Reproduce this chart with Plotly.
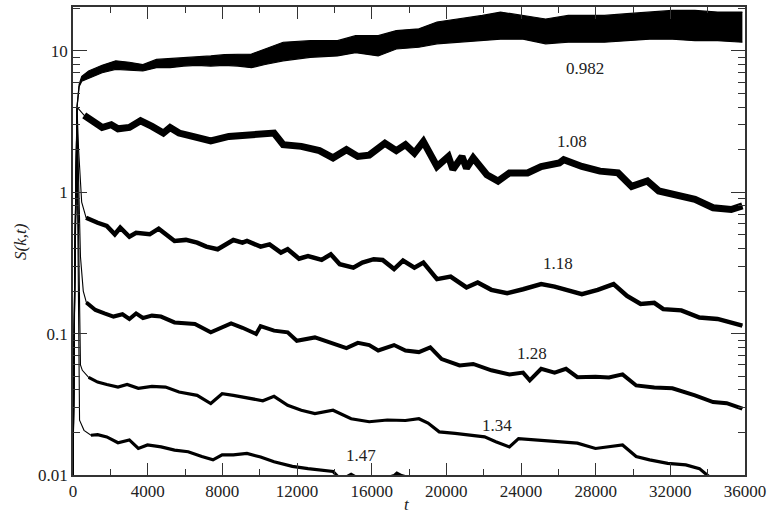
import numpy as np
import plotly.graph_objects as go

# ---------------- data ----------------
t_0982 = [0, 100, 215, 330, 470, 836, 1560, 2290, 3020, 3745, 4470, 5200, 5930, 6650, 7380,
          8110, 8835, 9560, 10290, 11260, 12710, 14170, 15140, 16350, 17320, 18530, 19500,
          20710, 21930, 22900, 24110, 25320, 26530, 28470, 29680, 30890, 32110, 33320, 34530, 35860]
s_0982_hi = [0.009, 0.35, 4.0, 5.8, 6.6, 7.2, 7.9, 8.5, 8.3, 8.0, 8.7, 8.8, 9.0, 9.1, 9.2,
             9.4, 9.5, 9.5, 10.3, 11.5, 11.8, 11.8, 12.8, 12.8, 13.9, 14.3, 16.0,
             16.8, 17.8, 18.8, 17.8, 16.8, 17.8, 17.8, 18.3, 18.8, 19.3, 19.3, 18.8, 18.8]
s_0982_lo = [0.009, 0.35, 4.0, 5.6, 6.1, 6.4, 7.0, 7.4, 7.3, 7.2, 7.6, 7.6, 7.8, 7.9, 7.8,
             7.9, 7.8, 7.6, 8.0, 8.5, 9.0, 9.2, 9.7, 9.2, 10.3, 10.6, 11.2,
             11.5, 11.8, 12.1, 12.1, 11.2, 11.5, 11.5, 11.8, 12.1, 12.1, 11.8, 11.8, 11.5]

t_108 = [0, 100, 215, 350, 600, 836, 1560, 2050, 2410, 3020, 3620, 4230, 4840, 5200, 5680,
         6410, 7380, 8350, 9560, 10530, 10770, 11260, 12230, 13200, 13930, 14650, 15260,
         15870, 16710, 17320, 17810, 18290, 18770, 19500, 20110, 20350, 20840, 21080, 21440,
         22170, 22770, 23380, 24350, 25080, 26050, 26290, 27260, 28230, 29200, 29930, 30770,
         31380, 32350, 33320, 34290, 35260, 35860]
s_108 = [0.009, 0.35, 4.0, 3.8, 3.5, 3.33, 2.87, 3.0, 2.81, 2.87, 3.2, 2.92, 2.62, 2.87, 2.62,
         2.48, 2.31, 2.48, 2.55, 2.55, 2.62, 2.17, 2.11, 1.97, 1.75, 2.0, 1.79,
         1.83, 2.22, 1.97, 2.17, 1.89, 2.28, 1.52, 1.79, 1.45, 1.79, 1.48, 1.75,
         1.33, 1.20, 1.37, 1.37, 1.52, 1.61, 1.70, 1.52, 1.41, 1.37, 1.10, 1.20,
         1.02, 0.94, 0.89, 0.776, 0.755, 0.80]

t_118 = [0, 100, 215, 300, 465, 700, 957, 1320, 1810, 2240, 2530, 3020, 3380, 4110, 4590,
         5440, 6050, 6650, 7140, 7750, 8590, 9080, 9320, 10050, 10530, 11140, 11500, 12110,
         12590, 13320, 13810, 14290, 15020, 15500, 16110, 16590, 17200, 17680, 18290, 18770,
         19500, 20230, 21080, 21680, 22410, 23260, 24110, 25080, 25800, 26410, 27260, 28110,
         28960, 29680, 30410, 31140, 31620, 32590, 33560, 34530, 35260, 35860]
s_118 = [0.009, 0.35, 4.0, 2.0, 0.85, 0.66, 0.635, 0.608, 0.577, 0.504, 0.561, 0.484, 0.517, 0.504, 0.552,
         0.452, 0.46, 0.44, 0.412, 0.395, 0.459, 0.44, 0.452, 0.412, 0.428, 0.374, 0.395, 0.339,
         0.354, 0.332, 0.364, 0.31, 0.293, 0.318, 0.336, 0.332, 0.286, 0.328, 0.293, 0.318,
         0.243, 0.253, 0.212, 0.23, 0.204, 0.193, 0.206, 0.224, 0.215, 0.204, 0.19, 0.204,
         0.224, 0.185, 0.162, 0.165, 0.149, 0.146, 0.13, 0.127, 0.12, 0.114]

t_128 = [0, 100, 215, 300, 400, 550, 715, 1200, 1685, 2170, 2650, 3020, 3380, 3750, 4230,
         4710, 5440, 6530, 7380, 8470, 9080, 9810, 10050, 10770, 11500, 11990, 12960, 13930,
         14650, 15260, 15870, 16350, 17200, 17810, 18530, 19140, 19750, 20710, 21440, 22410,
         23380, 24110, 24470, 25080, 25800, 26410, 27020, 27990, 28710, 29440, 30170, 31140,
         32110, 33320, 34290, 35020, 35860]
s_128 = [0.009, 0.3, 3.5, 1.0, 0.35, 0.2, 0.166, 0.147, 0.139, 0.132, 0.137, 0.127, 0.139, 0.129, 0.134,
         0.132, 0.12, 0.117, 0.102, 0.118, 0.11, 0.0995, 0.113, 0.105, 0.102, 0.089, 0.094, 0.085,
         0.079, 0.086, 0.083, 0.076, 0.083, 0.076, 0.074, 0.080, 0.066, 0.0595, 0.061, 0.055,
         0.0515, 0.053, 0.0467, 0.0564, 0.053, 0.0564, 0.0492, 0.0496, 0.049, 0.0515, 0.043, 0.0415,
         0.041, 0.0366, 0.0328, 0.0322, 0.0295]

t_134 = [0, 100, 215, 280, 350, 400, 500, 836, 1320, 1810, 2410, 2900, 3500, 4230, 4960,
         5680, 6650, 7380, 7990, 8590, 9560, 10170, 10770, 11500, 12230, 12960, 13930, 14900,
         15870, 16840, 17810, 18530, 19020, 19620, 20470, 21200, 22050, 22650, 23380, 23870,
         24830, 26050, 27020, 27990, 28710, 29440, 30170, 30890, 31860, 32830, 33560, 34050, 34500]
s_134 = [0.009, 0.3, 3.0, 0.6, 0.1, 0.06, 0.055, 0.049, 0.0454, 0.0437, 0.0419, 0.0437, 0.041, 0.0423, 0.0419,
         0.0386, 0.0366, 0.032, 0.0376, 0.0366, 0.0347, 0.0335, 0.036, 0.0311, 0.0287, 0.0272, 0.0287, 0.025,
         0.0238, 0.0245, 0.0243, 0.025, 0.0233, 0.0202, 0.0197, 0.0191, 0.0186, 0.0172, 0.0158, 0.0181,
         0.0177, 0.0172, 0.0168, 0.0154, 0.0158, 0.0163, 0.0135, 0.0128, 0.0121, 0.0118, 0.0111, 0.0098, 0.0092]

t_147 = [0, 100, 215, 270, 320, 351, 590, 960, 1320, 1810, 2410, 3020, 3500, 3990, 4720,
         5440, 6170, 6900, 7500, 7990, 8590, 9320, 10050, 10770, 11750, 12590, 13440, 13930,
         14170, 14650, 14900, 15140, 16500, 17200, 17350, 17600, 18500]
s_147 = [0.009, 0.25, 2.5, 0.4, 0.06, 0.0244, 0.0207, 0.0191, 0.0193, 0.0186, 0.0169, 0.0177, 0.0154, 0.0163, 0.0158,
         0.015, 0.0146, 0.0135, 0.0128, 0.0139, 0.0139, 0.0142, 0.0134, 0.0124, 0.0115, 0.0111, 0.0108, 0.0106,
         0.0098, 0.0097, 0.0101, 0.0097, 0.0093, 0.0099, 0.0103, 0.0099, 0.0092]

labels = ["0.982", "1.08", "1.18", "1.28", "1.34", "1.47"]
label_t = [27430, 26730, 25970, 24590, 22700, 15430]
label_s = [7.46, 2.29, 0.311, 0.0723, 0.0225, 0.0138]

x_ticks = list(range(0, 36001, 4000))
x_tick_text = [str(v) for v in x_ticks]
y_ticks = [0.01, 0.1, 1, 10]
y_tick_text = ["0.01", "0.1", "1", "10"]

# ---------------- figure ----------------
FONT = "Liberation Serif, Times New Roman, serif"
BLACK = "black"
TEXT = "#222"
TRANSIENT_END = 600

fig = go.Figure()

# 0.982 : filled band between upper / lower envelopes
fig.add_trace(go.Scatter(x=t_0982, y=s_0982_lo, mode="lines",
                         line=dict(color=BLACK, width=1.2), showlegend=False))
fig.add_trace(go.Scatter(x=t_0982, y=s_0982_hi, mode="lines", fill="tonexty",
                         fillcolor=BLACK, line=dict(color=BLACK, width=1.2), showlegend=False))

curves = [(t_108, s_108, 7), (t_118, s_118, 4.5), (t_128, s_128, 4),
          (t_134, s_134, 3.2), (t_147, s_147, 3.2)]
for tt, ss, w in curves:
    fig.add_trace(go.Scatter(x=tt, y=ss, mode="lines",
                             line=dict(color=BLACK, width=1.1), showlegend=False))
    tt2 = [a for a in tt if a >= TRANSIENT_END]
    ss2 = [b for a, b in zip(tt, ss) if a >= TRANSIENT_END]
    fig.add_trace(go.Scatter(x=tt2, y=ss2, mode="lines",
                             line=dict(color=BLACK, width=w), showlegend=False))

for txt, lt, ls in zip(labels, label_t, label_s):
    fig.add_annotation(x=lt, y=np.log10(ls), text=txt, showarrow=False,
                       xanchor="center", yanchor="middle",
                       font=dict(family=FONT, size=17, color=TEXT))

fig.add_annotation(xref="paper", yref="paper", x=-0.079, y=0.5, text="<i>S(k,t)</i>",
                   textangle=-90, showarrow=False, xanchor="center", yanchor="middle",
                   font=dict(family=FONT, size=17, color=TEXT))
fig.add_annotation(xref="paper", yref="paper", x=0.497, y=-0.064, text="<i>t</i>",
                   showarrow=False, xanchor="center", yanchor="middle",
                   font=dict(family=FONT, size=17, color=TEXT))

axis_common = dict(showgrid=False, zeroline=False, showline=True, linecolor="#333",
                   linewidth=1.5, mirror="ticks", ticks="inside", tickcolor="#333",
                   tickwidth=1.3, tickfont=dict(family=FONT, size=17, color=TEXT))

fig.update_xaxes(range=[0, 36000], tickvals=x_ticks, ticktext=x_tick_text, ticklen=12,
                 minor=dict(ticks="inside", dtick=2000, ticklen=6, tickcolor="#333", tickwidth=1.3),
                 **axis_common)
fig.update_yaxes(type="log", range=[-2, 1.31], tickvals=y_ticks, ticktext=y_tick_text, ticklen=14,
                 minor=dict(ticks="inside", dtick="D1", ticklen=7, tickcolor="#333", tickwidth=1.3),
                 **axis_common)

fig.update_layout(width=772, height=523, margin=dict(l=73, r=27, t=5, b=48),
                  plot_bgcolor="white", paper_bgcolor="white", showlegend=False)

fig.write_html("out.html")
